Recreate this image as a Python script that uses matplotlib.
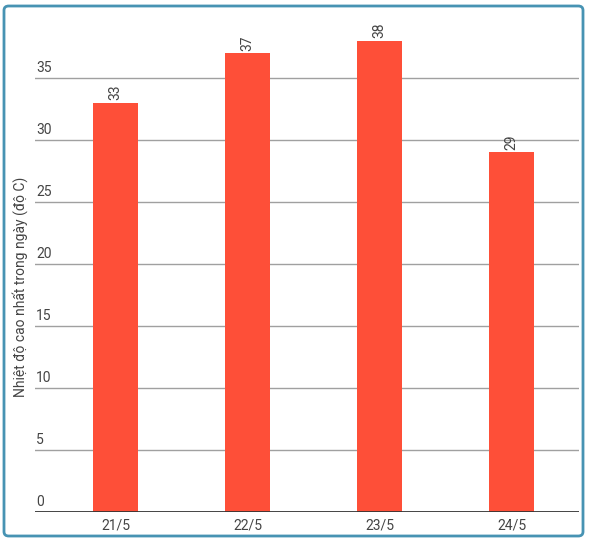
import matplotlib.pyplot as plt
from matplotlib.patches import FancyBboxPatch

# du lieu
ngay = ['21/5', '22/5', '23/5', '24/5']
nhiet_do = [33, 37, 38, 29]
y_ticks = [0, 5, 10, 15, 20, 25, 30, 35]

plt.rcParams['font.family'] = ['Roboto', 'DejaVu Sans']

W, H = 589, 541
fig = plt.figure(figsize=(W / 100, H / 100), dpi=100)

# khung vien bo tron
khung = FancyBboxPatch((4 / W, 5 / H), 579 / W, 530 / H,
                       boxstyle='round,pad=0,rounding_size=0.008',
                       transform=fig.transFigure, facecolor='none',
                       edgecolor='#4793b3', linewidth=2, zorder=10)
fig.patches.append(khung)

ax = fig.add_axes([35 / W, (H - 512) / H, 544 / W, 496 / H])
ax.set_facecolor('none')

x = range(len(ngay))
bars = ax.bar(x, nhiet_do, width=0.34, color='#fe4f38', zorder=3)

for i, v in enumerate(nhiet_do):
    ax.text(i, v + 0.2, str(v), rotation=90, ha='center', va='bottom',
            fontsize=10, color='#444444', zorder=4)

ax.set_xlim(-0.61, 3.51)
ax.set_ylim(0, 40)

# luoi ngang
for t in y_ticks[1:]:
    ax.axhline(t, color='#a0a0a0', linewidth=1, zorder=1)
for t in y_ticks:
    ax.text(0.002, t + 0.25, str(t), transform=ax.get_yaxis_transform(),
            ha='left', va='bottom', fontsize=10, color='#444444')
ax.axhline(0, color='#333333', linewidth=2, zorder=5)

ax.set_yticks([])
ax.set_xticks(list(x))
ax.set_xticklabels(ngay, fontsize=10, color='#444444')
ax.tick_params(axis='x', length=0, pad=5)
for s in ax.spines.values():
    s.set_visible(False)

fig.text(20 / W, 0.47, 'Nhiệt độ cao nhất trong ngày (độ C)', rotation=90,
         ha='center', va='center', fontsize=10, color='#444444')

fig.savefig('out.png', dpi=100)
